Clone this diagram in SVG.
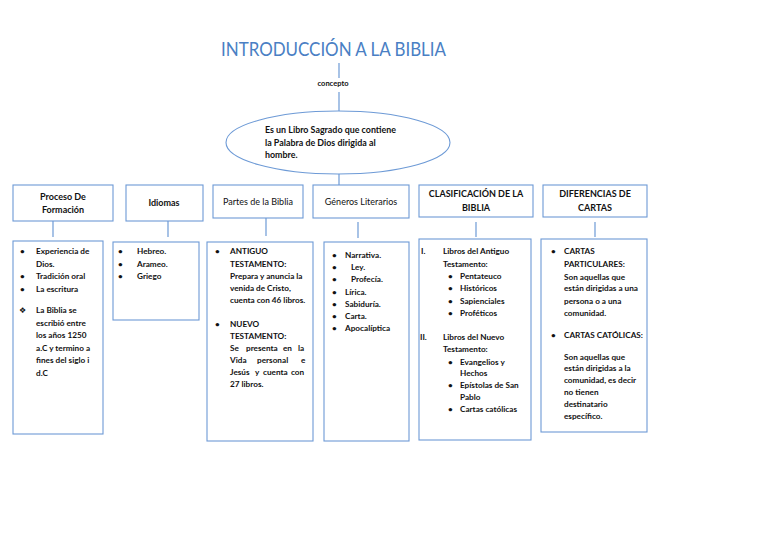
<svg xmlns="http://www.w3.org/2000/svg" width="768" height="543" viewBox="0 0 768 543">
<style>
.bx{fill:#fff;stroke:#6d9ad6;stroke-width:1.1}
.ln{stroke:#6d9ad6;stroke-width:1.2;fill:none}
.t{font-family:Lato,"Liberation Sans",sans-serif;font-size:8.2px;font-weight:bold;fill:#111}
.e{font-size:8.9px}
.h{font-family:Lato,"Liberation Sans",sans-serif;font-size:9px;fill:#111;text-anchor:middle}
.hb{font-weight:bold}
.ti{font-family:Lato,"Open Sans","Liberation Sans",sans-serif;font-size:20px;fill:#4a7fc4}
</style>
<rect width="768" height="543" fill="#fff"/>
<text class="ti" x="221" y="56" textLength="225" lengthAdjust="spacingAndGlyphs">INTRODUCCIÓN A LA BIBLIA</text>
<g id="connectors">
<line class="ln" x1="339" y1="63" x2="339" y2="78"/>
<line class="ln" x1="339" y1="92" x2="339" y2="111"/>
<line class="ln" x1="339" y1="174" x2="339" y2="185"/>
<line class="ln" x1="53" y1="221" x2="53" y2="237"/>
<line class="ln" x1="168" y1="221" x2="168" y2="237"/>
<line class="ln" x1="266" y1="218" x2="266" y2="236"/>
<line class="ln" x1="358" y1="222" x2="358" y2="238"/>
<line class="ln" x1="476" y1="222" x2="476" y2="237"/>
<line class="ln" x1="595" y1="222" x2="595" y2="237"/>
</g>
<g id="concepto-label">
<text class="t" x="333" y="86" text-anchor="middle" style="font-size:7.5px">concepto</text>
</g>
<g id="n-concepto">
<ellipse cx="338" cy="142.5" rx="112" ry="31.5" fill="#fff" stroke="#6d9ad6" stroke-width="1.1"/>
<text class="t e" x="265" y="133">Es un Libro Sagrado que contiene</text>
<text class="t e" x="265" y="145.5">la Palabra de Dios dirigida al</text>
<text class="t e" x="265" y="158">hombre.</text>
</g>
<g id="h-proceso">
<rect class="bx" x="13" y="185" width="100" height="36"/>
<text class="h hb" x="63" y="200">Proceso De</text>
<text class="h hb" x="63" y="212.5">Formación</text>
</g>
<g id="h-idiomas">
<rect class="bx" x="126" y="185" width="77" height="36"/>
<text class="h hb" x="164" y="206">Idiomas</text>
</g>
<g id="h-partes">
<rect class="bx" x="213" y="185" width="90" height="33"/>
<text class="h" x="258" y="205">Partes de la Biblia</text>
</g>
<g id="h-generos">
<rect class="bx" x="313" y="185" width="96" height="33"/>
<text class="h" x="361" y="205">Géneros Literarios</text>
</g>
<g id="h-clasificacion">
<rect class="bx" x="419" y="185" width="114" height="32"/>
<text class="h hb" x="476" y="197">CLASIFICACIÓN DE LA</text>
<text class="h hb" x="476" y="211">BIBLIA</text>
</g>
<g id="h-diferencias">
<rect class="bx" x="543" y="185" width="104" height="32"/>
<text class="h hb" x="595" y="197">DIFERENCIAS DE</text>
<text class="h hb" x="595" y="211">CARTAS</text>
</g>
<g id="c-proceso">
<rect class="bx" x="13" y="241" width="90" height="193"/>
<text class="t" x="20" y="254">•</text><text class="t" x="36" y="254">Experiencia de</text>
<text class="t" x="36" y="266.5">Dios.</text>
<text class="t" x="20" y="279">•</text><text class="t" x="36" y="279">Tradición oral</text>
<text class="t" x="20" y="291.5">•</text><text class="t" x="36" y="291.5">La escritura</text>
<text class="t" x="19" y="313" style="font-family:'DejaVu Sans',sans-serif;font-size:8px">❖</text><text class="t" x="36" y="313">La Biblia se</text>
<text class="t" x="36" y="325.5">escribió entre</text>
<text class="t" x="36" y="338">los años 1250</text>
<text class="t" x="36" y="350.5">a.C y termino a</text>
<text class="t" x="36" y="363">fines del siglo i</text>
<text class="t" x="36" y="375.5">d.C</text>
</g>
<g id="c-idiomas">
<rect class="bx" x="113" y="242" width="86" height="78"/>
<text class="t" x="118" y="254">•</text><text class="t" x="137" y="254">Hebreo.</text>
<text class="t" x="118" y="266.5">•</text><text class="t" x="137" y="266.5">Arameo.</text>
<text class="t" x="118" y="279">•</text><text class="t" x="137" y="279">Griego</text>
</g>
<g id="c-partes">
<rect class="bx" x="207" y="242" width="106" height="199"/>
<text class="t" x="215" y="254">•</text><text class="t" x="230" y="254">ANTIGUO</text>
<text class="t" x="230" y="266.5">TESTAMENTO:</text>
<text class="t" x="230" y="279">Prepara y anuncia la</text>
<text class="t" x="230" y="291">venida de Cristo,</text>
<text class="t" x="230" y="303">cuenta con 46 libros.</text>
<text class="t" x="215" y="327">•</text><text class="t" x="230" y="327">NUEVO</text>
<text class="t" x="230" y="339">TESTAMENTO:</text>
<text class="t" y="351"><tspan x="230">Se</tspan><tspan x="246">presenta</tspan><tspan x="283">en</tspan><tspan x="298">la</tspan></text>
<text class="t" y="363"><tspan x="230">Vida</tspan><tspan x="257">personal</tspan><tspan x="301">e</tspan></text>
<text class="t" y="375"><tspan x="230">Jesús</tspan><tspan x="255">y</tspan><tspan x="263">cuenta</tspan><tspan x="291">con</tspan></text>
<text class="t" x="230" y="387">27 libros.</text>
</g>
<g id="c-generos">
<rect class="bx" x="324" y="242" width="85" height="199"/>
<text class="t" x="332" y="258">•</text><text class="t" x="345" y="258">Narrativa.</text>
<text class="t" x="332" y="270">•</text><text class="t" x="351" y="270">Ley.</text>
<text class="t" x="332" y="282">•</text><text class="t" x="351" y="282">Profecía.</text>
<text class="t" x="332" y="294.5">•</text><text class="t" x="345" y="294.5">Lírica.</text>
<text class="t" x="332" y="307">•</text><text class="t" x="345" y="307">Sabiduría.</text>
<text class="t" x="332" y="319">•</text><text class="t" x="345" y="319">Carta.</text>
<text class="t" x="332" y="331">•</text><text class="t" x="345" y="331">Apocalíptica</text>
</g>
<g id="c-clasificacion">
<rect class="bx" x="419" y="239" width="112" height="201"/>
<text class="t" x="421" y="254">I.</text><text class="t" x="443" y="254">Libros del Antiguo</text>
<text class="t" x="443" y="266.5">Testamento:</text>
<text class="t" x="448" y="279">•</text><text class="t" x="460" y="279">Pentateuco</text>
<text class="t" x="448" y="291">•</text><text class="t" x="460" y="291">Históricos</text>
<text class="t" x="448" y="304">•</text><text class="t" x="460" y="304">Sapienciales</text>
<text class="t" x="448" y="316">•</text><text class="t" x="460" y="316">Proféticos</text>
<text class="t" x="420" y="340">II.</text><text class="t" x="443" y="340">Libros del Nuevo</text>
<text class="t" x="443" y="352">Testamento:</text>
<text class="t" x="448" y="365">•</text><text class="t" x="460" y="365">Evangelios y</text>
<text class="t" x="460" y="375.5">Hechos</text>
<text class="t" x="448" y="388">•</text><text class="t" x="460" y="388">Epístolas de San</text>
<text class="t" x="460" y="400">Pablo</text>
<text class="t" x="448" y="412">•</text><text class="t" x="460" y="412">Cartas católicas</text>
</g>
<g id="c-diferencias">
<rect class="bx" x="541" y="239" width="106" height="193"/>
<text class="t" x="551" y="254">•</text><text class="t" x="564" y="254">CARTAS</text>
<text class="t" x="564" y="267">PARTICULARES:</text>
<text class="t" x="564" y="280">Son aquellas que</text>
<text class="t" x="564" y="291">están dirigidas a una</text>
<text class="t" x="564" y="304">persona o a una</text>
<text class="t" x="564" y="316">comunidad.</text>
<text class="t" x="551" y="338">•</text><text class="t" x="564" y="338">CARTAS CATÓLICAS:</text>
<text class="t" x="564" y="360">Son aquellas que</text>
<text class="t" x="564" y="371">están dirigidas a la</text>
<text class="t" x="564" y="383">comunidad, es decir</text>
<text class="t" x="564" y="395">no tienen</text>
<text class="t" x="564" y="407">destinatario</text>
<text class="t" x="564" y="419">específico.</text>
</g>
</svg>
